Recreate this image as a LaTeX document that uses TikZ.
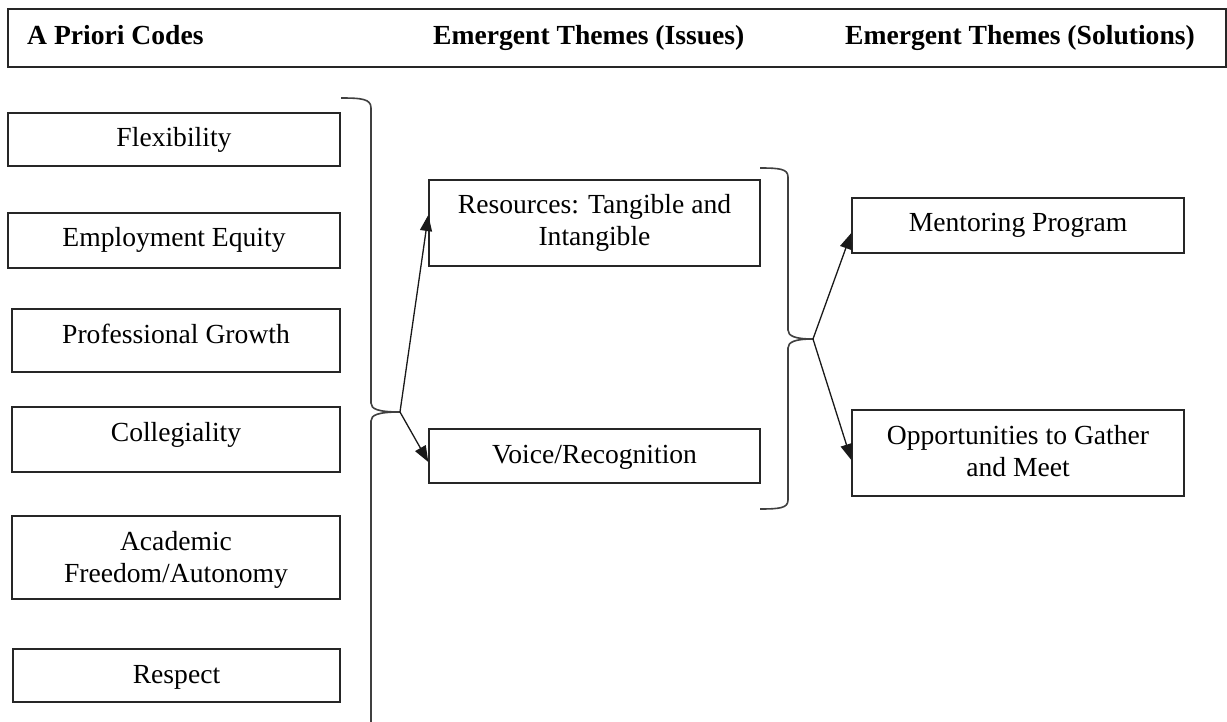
\documentclass[tikz,border=0pt]{standalone}
\usepackage{fontspec}
\setmainfont{Liberation Serif}
\usetikzlibrary{arrows.meta}
\newcommand{\twoline}[2]{\begin{tabular}[t]{@{}c@{}}#1\\#2\end{tabular}}
\begin{document}
\begin{tikzpicture}[x=1pt,y=-1pt,
  every node/.style={font=\fontsize{27.6}{32}\selectfont},
  cbox/.style={draw=black!85, line width=1.4pt, inner sep=0pt, text height=34pt, align=center},
  htext/.style={anchor=base west, inner sep=0pt, font=\fontsize{27.6}{32}\selectfont\bfseries},
  brace/.style={draw=black!75, line width=1.6pt},
  conn/.style={draw=black!90, line width=1.3pt, -{Triangle[length=16pt,width=12pt]}}]
\useasboundingbox (0,0) rectangle (1227,722);
% header
\node[draw=black!85, line width=1.4pt, minimum width=1218pt, minimum height=58pt, inner sep=0pt] (head) at (617,38) {};
\node[htext] (h1) at (27,45) {A Priori Codes};
\node[htext] (h2) at (433,45) {Emergent Themes (Issues)};
\node[htext] (h3) at (845,45) {Emergent Themes (Solutions)};
% a priori codes
\node[cbox, minimum width=332pt, text depth=19pt] (flex) at (174,139.5) {Flexibility};
\node[cbox, minimum width=332pt, text depth=21pt] (emp) at (174,240.5) {Employment Equity};
\node[cbox, minimum width=328pt, text depth=29pt] (prof) at (176,340.5) {Professional Growth};
\node[cbox, minimum width=328pt, text depth=31pt] (coll) at (176,439.5) {Collegiality};
\node[cbox, minimum width=328pt, text depth=49pt] (acad) at (176,557.5) {\twoline{Academic}{Freedom/Autonomy}};
\node[cbox, minimum width=327pt, text depth=19pt] (resp) at (176.5,675.5) {Respect};
% issues
\node[cbox, minimum width=331pt, text depth=52pt] (res) at (594.5,223) {\twoline{Resources: Tangible and}{Intangible}};
\node[cbox, minimum width=331pt, text depth=20pt] (voice) at (594.5,456) {Voice/Recognition};
% solutions
\node[cbox, minimum width=332pt, text depth=21pt] (ment) at (1018,225.5) {Mentoring Program};
\node[cbox, minimum width=332pt, text depth=52pt] (opp) at (1018,453) {\twoline{Opportunities to Gather}{and Meet}};
% braces
\coordinate (ltip) at (400,412);
\coordinate (mtip) at (813,339);
\draw[brace] (341,98) .. controls (362,98) and (371,99) .. (371,108) -- (371,403)
  .. controls (371,409) and (378,412) .. (ltip)
  .. controls (378,412) and (371,415) .. (371,421) -- (371,730);
\draw[brace] (760,168) .. controls (780,168) and (788,169) .. (788,177) -- (788,330)
  .. controls (788,336) and (795,339) .. (mtip)
  .. controls (795,339) and (788,342) .. (788,348) -- (788,500)
  .. controls (788,508) and (780,509) .. (760,509);
% connectors
\draw[conn] (ltip) -- ([yshift=8pt]res.west);
\draw[conn] (ltip) -- ([yshift=-6pt]voice.west);
\draw[conn] (mtip) -- ([yshift=-7.5pt]ment.west);
\draw[conn] (mtip) -- ([yshift=-7pt]opp.west);
\end{tikzpicture}
\end{document}
